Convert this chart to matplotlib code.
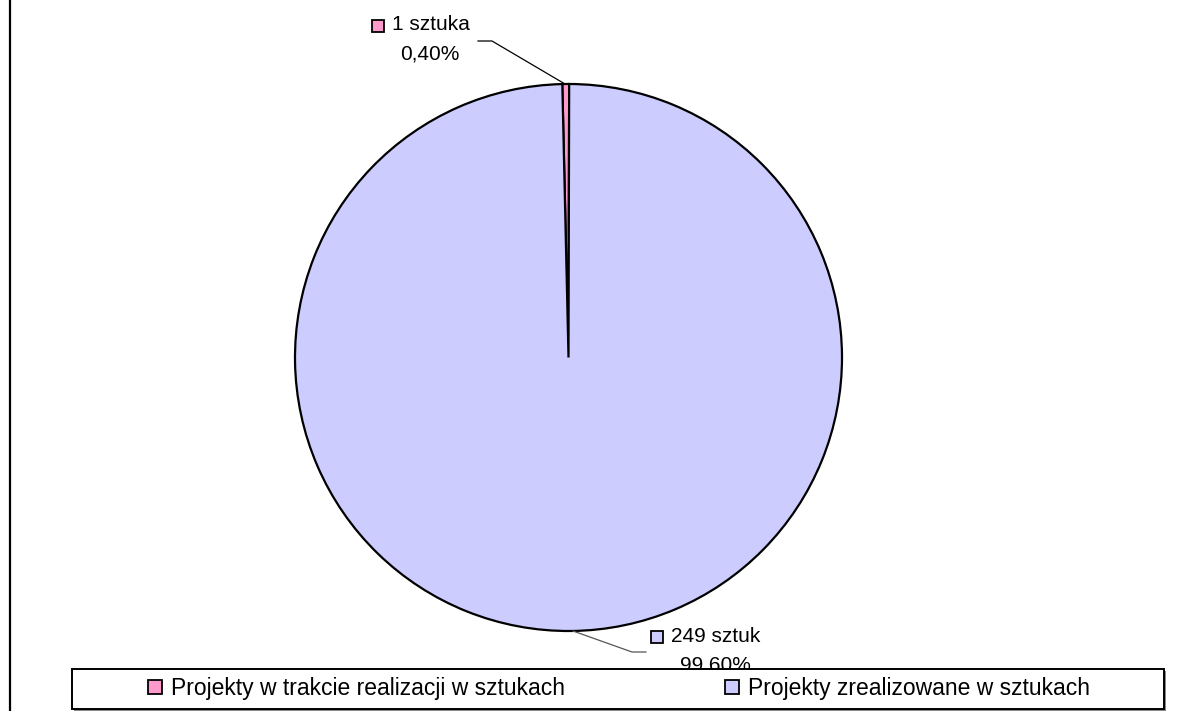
import matplotlib.pyplot as plt
from matplotlib.patches import Rectangle
from matplotlib.lines import Line2D

plt.rcParams['font.family'] = ['Liberation Sans', 'DejaVu Sans']

categories = ['Projekty w trakcie realizacji w sztukach',
              'Projekty zrealizowane w sztukach']
values = [1, 249]
value_labels = ['1 sztuka', '249 sztuk']
colors = ['#FF99CC', '#CCCCFF']

W, H = 1184, 711


def pct(v, total):
    return '{:.2f}%'.format(100.0 * v / total).replace('.', ',')


fig = plt.figure(figsize=(W / 100, H / 100), dpi=100)
ax = fig.add_axes([0, 0, 1, 1])

cx, cy, r = 568.5, H - 357.5, 273.5
ax.pie(values, colors=colors, startangle=91.3, counterclock=False,
       center=(cx, cy), radius=r, frame=True,
       wedgeprops=dict(edgecolor='black', linewidth=1.6))
ax.set_xlim(0, W)
ax.set_ylim(0, H)
ax.axis('off')

total = sum(values)

# data labels with their small colour keys and leader lines
label_pos = [(392, 25), (671, 636)]
pct_dx = [38, 44]
leaders = [[(478, 41), (492, 41), (565, 84)],
           [(573, 631), (632, 652), (646, 652)]]
for i, v in enumerate(values):
    x, y = label_pos[i]
    ax.plot(x - 14, H - y - 1, marker='s', markersize=8.5,
            markerfacecolor=colors[i], markeredgecolor='black',
            markeredgewidth=1.3, linestyle='none')
    ax.text(x, H - y, value_labels[i], fontsize=15,
            ha='left', va='center')
    ax.text(x + pct_dx[i], H - y - 29, pct(v, total),
            fontsize=15, ha='center', va='center')
    xs = [p[0] for p in leaders[i]]
    ys = [H - p[1] for p in leaders[i]]
    ax.plot(xs, ys, color='black' if i == 0 else '#555555', linewidth=0.9)

# vertical rule on the left side
fig.add_artist(Line2D([9.5 / W, 9.5 / W], [0, 1], color='black',
                      linewidth=1.6, transform=fig.transFigure))

# legend box with a thin grey shadow underneath
shadow = Rectangle((74 / W, 1 - 711 / H), (1164 - 72) / W, 40 / H,
                   transform=fig.transFigure, facecolor='#888888',
                   edgecolor='none', zorder=1.9)
fig.add_artist(shadow)
box = Rectangle((72 / W, 1 - 709 / H), (1164 - 72) / W, 40 / H,
                transform=fig.transFigure, facecolor='white',
                edgecolor='black', linewidth=1.4, zorder=2)
fig.add_artist(box)

handles = [Line2D([], [], marker='s', markersize=9.5, linestyle='none',
                  markerfacecolor=c, markeredgecolor='black',
                  markeredgewidth=1.3) for c in colors]
leg = fig.legend(handles, categories, loc='center left', ncol=2,
                 bbox_to_anchor=(148 / W, 1 - 689 / H), frameon=False,
                 fontsize=16.5, handlelength=0.6, handletextpad=0.4,
                 columnspacing=7.0, borderpad=0, borderaxespad=0)
leg.set_zorder(3)

fig.savefig('out.png', dpi=100)
